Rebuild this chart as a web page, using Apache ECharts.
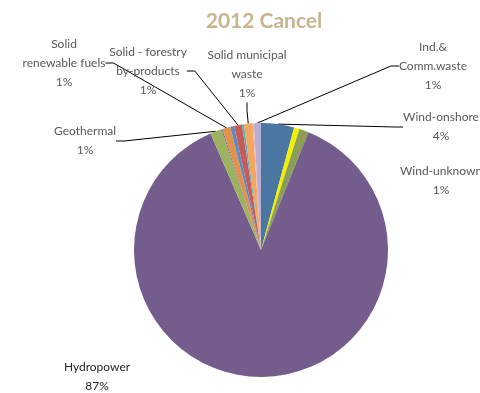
<!doctype html>
<html lang="en">
<head>
    <meta charset="UTF-8">
    <title>2012 Cancel</title>
    <script src="https://cdn.jsdelivr.net/npm/echarts@6/dist/echarts.min.js"></script>
    <style>
        html, body { margin: 0; padding: 0; background: #fff; }
        #main { width: 480px; height: 393px; }
    </style>
</head>
<body>
<div id="main"></div>
<script>
    // slices clockwise from 12 o'clock
    var names = ['Wind-onshore', 'Wind-offshore', 'Wind-unknown', 'Hydropower', 'Geothermal', 'Solar',
        'Solid renewable fuels', 'Biogas', 'Solid - forestry by-products', 'Liquid biofuels',
        'Solid municipal waste', 'Other', 'Ind.& Comm.waste'];
    var labelText = ['Wind-onshore', '', 'Wind-unknown', 'Hydropower', 'Geothermal', '',
        'Solid\nrenewable fuels', '', 'Solid - forestry\nby-products', '',
        'Solid municipal\nwaste', '', 'Ind.&\nComm.waste'];
    var values = [4.2, 0.7, 1.2, 87.4, 1.45, 0.15, 1.0, 0.5, 1.0, 0.25, 1.1, 0.15, 0.9];
    var colors = ['#4a76a2', '#f0f000', '#8a9e56', '#745d8c', '#9bb35f', '#7f6aa0',
        '#e0914c', '#5b8ac4', '#c75b58', '#4fb3c8', '#f4a55e', '#e6b9b8', '#b9aed2'];

    // where each label sits (centre of the text block)
    var labelPos = {
        0: [441, 127],
        2: [441, 181],
        3: [97, 377],
        4: [85, 141],
        6: [64, 63],
        8: [148, 71],
        10: [247, 74],
        12: [433, 66]
    };
    var noLine = { 2: true, 3: true };

    var myChart = echarts.init(document.getElementById('main'));

    var pieData = names.map(function (n, i) {
        var shown = !!labelText[i];
        return {
            name: n,
            value: values[i],
            itemStyle: { color: colors[i] },
            label: { show: shown, color: i == 3 ? '#262626' : '#595959' },
            labelLine: { show: shown && !noLine[i] }
        };
    });

    var option = {
        animation: false,
        title: {
            text: '2012 Cancel',
            left: 259,
            top: 6,
            textAlign: 'center',
            textStyle: {
                fontFamily: 'Lato',
                fontSize: 21,
                fontWeight: 'bold',
                color: '#c8b48e'
            }
        },
        series: [
            {
                type: 'pie',
                center: [261, 250],
                radius: 127,
                startAngle: 90,
                clockwise: true,
                avoidLabelOverlap: false,
                data: pieData,
                label: {
                    position: 'outside',
                    fontFamily: 'Lato',
                    fontSize: 12,
                    lineHeight: 19,
                    align: 'center',
                    formatter: function (p) {
                        return labelText[p.dataIndex] + '\n' + Math.round(p.percent) + '%';
                    }
                },
                labelLine: {
                    length: 10,
                    length2: 8,
                    lineStyle: { color: '#000', width: 1 }
                },
                labelLayout: function (params) {
                    var p = labelPos[params.dataIndex];
                    if (!p) return {};
                    return { x: p[0], y: p[1], align: 'center', verticalAlign: 'middle' };
                }
            }
        ]
    };
    myChart.setOption(option);
</script>
</body>
</html>
